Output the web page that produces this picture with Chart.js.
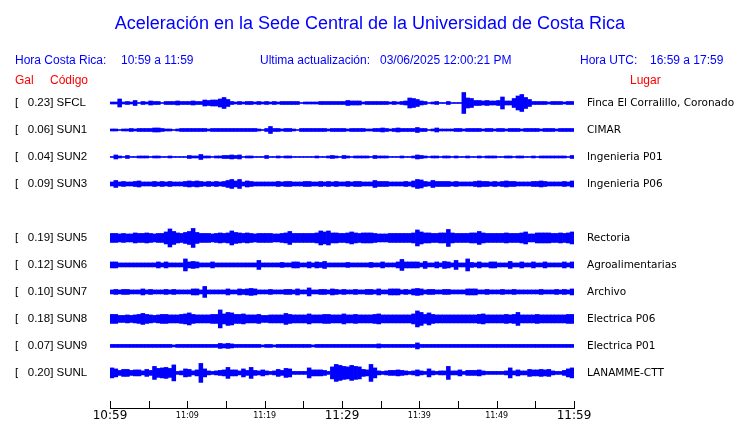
<!DOCTYPE html>
<html><head><meta charset="utf-8">
<script src="https://cdn.jsdelivr.net/npm/chart.js@4.4.1/dist/chart.umd.min.js"></script>
<style>
html,body{margin:0;padding:0;background:#fff;}
#wrap{position:relative;width:740px;height:423px;overflow:hidden;background:#fff;}
#c{position:absolute;left:0;top:0;}
.t{position:absolute;white-space:pre;font-family:"Liberation Sans",Arial,sans-serif;font-size:12px;line-height:14px;color:#0000ff;}
.r{color:#ff0000;}
</style></head><body>
<div id="wrap">
<canvas id="c" width="740" height="423"></canvas>
<div class="t" style="left:0;width:740px;text-align:center;top:13px;font-size:18px;line-height:20px;">Aceleración en la Sede Central de la Universidad de Costa Rica</div>
<div class="t" style="left:15px;top:53px;">Hora Costa Rica:</div>
<div class="t" style="left:121px;top:53px;">10:59 a 11:59</div>
<div class="t" style="left:260px;top:53px;">Ultima actualización:</div>
<div class="t" style="left:380px;top:53px;">03/06/2025 12:00:21 PM</div>
<div class="t" style="left:580px;top:53px;">Hora UTC:</div>
<div class="t" style="left:650px;top:53px;">16:59 a 17:59</div>
<div class="t r" style="left:15px;top:73px;">Gal</div>
<div class="t r" style="left:50px;top:73px;">Código</div>
<div class="t r" style="left:630px;top:73px;">Lugar</div>
</div>
<script>
// ---- data ----
const codes = ['SFCL','SUN1','SUN2','SUN3','SUN5','SUN6','SUN7','SUN8','SUN9','SUNL'];
const peakGal = [0.23,0.06,0.04,0.09,0.19,0.12,0.10,0.18,0.07,0.20];
const places = ['Finca El Corralillo, Coronado','CIMAR','Ingenieria P01','Ingenieria P06','Rectoria','Agroalimentarias','Archivo','Electrica P06','Electrica P01','LANAMME-CTT'];
const tickMinutes = [0,5,10,15,20,25,30,35,40,45,50,55,60];
const tickLabels = ['10:59','','11:09','','11:19','','11:29','','11:39','','11:49','','11:59'];
const majorTickLabels = ['10:59','11:29','11:59'];

// peak |acceleration| per 30 s window, in units of 0.01 Gal (10:59 -> 11:59)
const sfcl = [2,2,8,2,3,2,5,1,3,2, 4,3,3,1,3,3,3,4,3,3, 3,4,3,3,6,5,6,6,8,11, 7,3,2,3,2,3,3,2,3,2,
  3,2,3,2,3,3,3,3,3,1, 2,2,2,2,3,3,3,3,3,3, 3,5,4,4,4,2,3,3,3,3, 3,3,2,3,2,3,4,10,9,7,
  4,3,1,2,3,1,1,3,1,1, 1,21,10,9,5,5,4,5,4,4, 5,12,4,4,9,14,17,11,7,3, 3,3,3,2,3,3,3,2,3,3];
const sun1 = [2,2,1,2,2,3,2,3,3,3, 3,4,4,3,2,2,1,2,3,3, 3,3,3,3,3,2,3,3,3,3, 3,3,3,3,3,3,3,3,2,1,
  3,7,3,3,2,3,3,2,1,3, 3,3,3,3,3,3,2,3,3,3, 3,2,3,3,3,3,2,2,3,3, 4,3,2,3,4,3,3,3,3,5,
  3,3,1,2,4,2,2,2,2,3, 3,2,3,3,3,3,2,3,3,2, 3,3,2,3,3,3,2,3,3,3, 3,2,3,3,3,2,3,3,3,3];
const sun2 = [1,4,2,1,3,1,1,2,2,2, 1,2,2,1,1,2,1,1,1,1, 3,2,2,5,2,2,1,2,2,3, 3,4,3,4,1,2,2,1,1,1,
  3,1,1,2,1,2,2,1,1,1, 1,1,1,2,1,1,2,3,2,1, 3,2,1,2,2,2,2,1,3,2, 2,2,1,1,1,2,1,1,2,4,
  3,2,1,2,2,1,2,2,1,2, 1,1,2,1,1,2,1,2,2,2, 1,1,2,2,1,2,2,1,1,2, 1,2,2,2,2,2,2,2,1,3];
const sun3 = [4,7,4,5,4,4,5,6,4,4, 4,5,4,5,4,5,4,4,4,5, 6,5,6,5,4,5,4,5,4,5, 7,9,6,9,4,6,5,4,4,4,
  4,4,4,5,4,5,5,4,4,4, 5,5,4,4,5,4,5,4,5,4, 4,5,4,5,5,4,4,4,7,5, 5,5,4,4,4,4,5,4,6,9,
  8,5,4,7,5,5,5,5,4,5, 4,4,4,4,5,6,5,5,4,5, 4,5,6,5,5,4,4,4,4,5, 5,6,5,4,4,4,4,5,4,6];
const sun5 = [9,9,8,9,8,8,10,9,9,10, 9,8,9,9,12,18,13,10,9,11, 13,19,11,9,9,9,8,9,10,9, 10,14,11,10,9,10,9,8,9,9,
  9,9,8,8,9,10,13,9,9,9, 9,9,9,10,14,12,14,10,10,9, 9,10,12,10,9,10,10,10,9,8, 8,8,9,9,9,9,9,9,10,16,
  12,10,10,9,9,10,10,17,10,9, 9,9,9,10,10,13,10,9,9,9, 9,9,10,9,9,9,10,12,8,8, 10,10,10,10,9,9,10,9,10,12];
const sun6 = [6,6,4,4,4,4,4,4,4,4, 4,4,6,4,6,4,4,4,4,12, 6,7,6,4,4,4,6,4,4,4, 4,4,4,4,4,4,4,4,9,4,
  4,4,4,4,5,4,4,6,6,4, 4,6,4,6,5,7,4,4,4,4, 4,5,4,4,4,4,4,5,4,4, 6,4,4,4,6,11,6,6,6,6,
  4,7,4,4,6,4,7,6,4,9, 4,4,12,5,4,6,4,4,6,6, 4,4,4,7,4,4,6,4,4,6, 4,4,6,4,4,4,4,6,4,6];
const sun7 = [4,5,4,5,5,4,4,4,6,4, 5,4,4,4,5,4,5,4,4,4, 4,6,6,4,11,4,4,4,4,4, 6,4,4,6,5,6,7,6,4,4,
  4,5,4,4,4,5,5,4,6,4, 4,8,4,4,5,5,4,6,5,4, 5,4,4,5,4,4,5,5,4,6, 4,4,6,6,6,4,5,4,6,7,
  6,4,5,5,4,4,5,5,4,4, 4,4,6,6,6,4,4,5,4,4, 4,5,4,4,5,4,4,4,4,4, 4,5,4,4,4,5,4,5,4,6];
const sun8 = [9,9,7,7,8,7,8,9,11,9, 8,7,8,9,9,8,8,8,9,10, 12,9,8,8,8,8,9,9,18,10, 13,12,9,9,10,8,8,8,9,7,
  7,8,8,8,8,11,9,8,8,8, 8,10,8,8,8,9,9,8,8,8, 10,8,8,9,8,8,8,8,9,10, 8,8,8,8,8,8,8,8,10,16,
  13,9,12,9,8,8,8,8,8,8, 8,8,8,8,8,9,10,8,8,8, 8,8,9,8,9,13,8,8,8,8, 9,8,8,8,8,8,8,8,9,9];
const sun9 = [3,3,3,3,3,3,3,3,3,3, 3,3,3,3,3,3,2,3,3,3, 3,3,3,3,3,3,3,3,5,4, 5,4,3,3,3,3,3,3,3,2,
  3,3,2,3,3,3,3,3,3,3, 3,3,2,3,3,3,3,3,3,3, 3,3,3,3,3,3,3,3,3,4, 3,3,3,3,3,3,3,3,3,6,
  3,3,3,3,3,3,3,3,3,3, 3,3,3,3,3,3,3,3,3,3, 3,3,3,3,3,3,3,3,3,3, 3,3,3,3,3,3,3,3,3,3];
const sunl = [10,8,5,7,7,5,6,6,4,7, 5,13,9,10,11,9,16,3,4,8, 7,4,6,19,8,4,3,4,5,6, 11,6,6,4,8,5,11,5,4,6,
  4,3,4,7,5,9,8,3,3,3, 3,10,6,6,6,5,3,12,17,15, 13,12,15,13,12,7,6,17,10,4, 3,4,5,5,6,5,4,3,4,6,
  4,3,8,4,3,4,4,13,4,4, 6,3,5,5,5,6,4,3,3,3, 3,3,4,10,4,6,4,4,7,6, 6,7,6,7,4,3,3,5,8,10];
const traces = [sfcl, sun1, sun2, sun3, sun5, sun6, sun7, sun8, sun9, sunl];

// ---- drawing ----
const GAIN = 50 / 27;                   // display gain: trace rows per Gal
const rowOf = i => (i < 4 ? i : i + 1); // slot 4 (SUN4) left empty
const binLabels = sfcl.map((_, k) => k);

const datasets = traces.map((tr, i) => ({
  type: 'bar',
  data: tr.map(v => [rowOf(i) - v / 100 * GAIN, rowOf(i) + v / 100 * GAIN]),
  backgroundColor: '#0000ff',
  borderWidth: 0,
  barPercentage: 1,
  categoryPercentage: 1,
  grouped: false,
  xAxisID: 'x',
  yAxisID: 'y'
}));

const leftLabel = i => '[' + peakGal[i].toFixed(2).padStart(7, ' ') + '] ' + codes[i];

// time axis: tick marks pointing up from the axis line, labels below it
const timeAxis = {
  id: 'timeAxis',
  afterDraw(chart) {
    const s = chart.scales.xt, ctx = chart.ctx;
    const base = chart.chartArea.bottom;
    ctx.save();
    ctx.strokeStyle = '#000';
    ctx.lineWidth = 1;
    ctx.beginPath();
    tickMinutes.forEach(m => {
      const px = Math.round(s.getPixelForValue(m)) + 0.5;
      ctx.moveTo(px, base - 7);
      ctx.lineTo(px, base);
    });
    ctx.stroke();
    ctx.fillStyle = '#000';
    ctx.textAlign = 'center';
    ctx.textBaseline = 'middle';
    tickMinutes.forEach((m, k) => {
      const lab = tickLabels[k];
      if (!lab) return;
      ctx.font = majorTickLabels.includes(lab) ? '12px "DejaVu Sans"' : '8px "DejaVu Sans"';
      ctx.fillText(lab, s.getPixelForValue(m), base + 7.5);
    });
    ctx.restore();
  }
};

new Chart(document.getElementById('c'), {
  type: 'bar',
  data: { labels: binLabels, datasets },
  plugins: [timeAxis],
  options: {
    responsive: false,
    animation: false,
    devicePixelRatio: 1,
    layout: { padding: { left: 15, top: 76, right: 0, bottom: 0 } },
    plugins: { legend: { display: false }, tooltip: { enabled: false }, title: { display: false } },
    scales: {
      x: { type: 'category', display: false, offset: true },
      xt: {
        type: 'linear', position: 'bottom', min: 0, max: 60, offset: false,
        afterBuildTicks: s => { s.ticks = tickMinutes.map(v => ({ value: v })); },
        afterFit: s => { s.height = 15; },
        grid: { display: false, drawTicks: false, offset: false },
        border: { display: true, color: '#000', width: 1 },
        ticks: { display: false }
      },
      y: {
        type: 'linear', position: 'left', min: -1, max: 11.3, reverse: true,
        afterBuildTicks: s => { s.ticks = codes.map((_, i) => ({ value: rowOf(i) })); },
        afterFit: s => { s.width = 95; },
        grid: { display: false, drawTicks: false },
        border: { display: false },
        ticks: {
          autoSkip: false, padding: 0, color: '#000', crossAlign: 'far',
          callback: (v, idx) => leftLabel(idx),
          font: { family: 'Liberation Sans', size: 11.5 }
        }
      },
      yR: {
        type: 'linear', position: 'right', min: -1, max: 11.3, reverse: true,
        afterBuildTicks: s => { s.ticks = places.map((_, i) => ({ value: rowOf(i) })); },
        afterFit: s => { s.width = 166; },
        grid: { display: false, drawTicks: true, tickLength: 13 },
        border: { display: false },
        ticks: {
          autoSkip: false, padding: 0, color: '#000', crossAlign: 'near',
          callback: (v, idx) => places[idx],
          font: { family: 'DejaVu Sans', size: 10.5 }
        }
      }
    }
  }
});
</script>
</body></html>
